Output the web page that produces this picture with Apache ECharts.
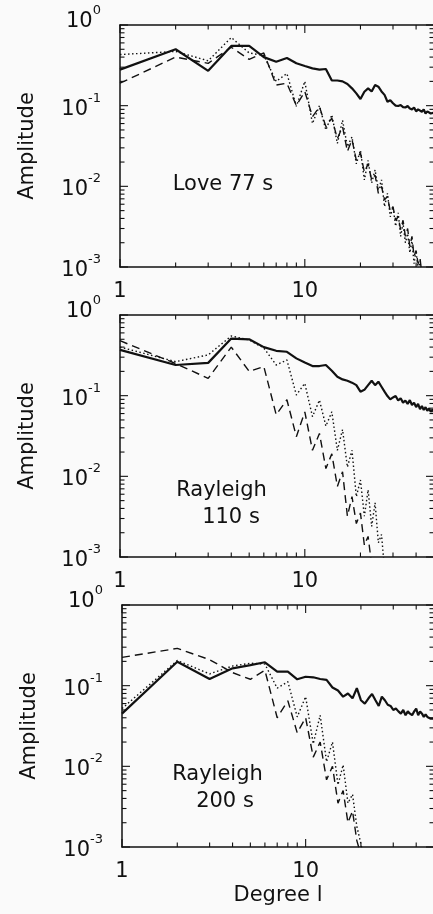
<!DOCTYPE html>
<html><head><meta charset="utf-8">
<script src="https://cdn.jsdelivr.net/npm/echarts@6/dist/echarts.min.js"></script>
<style>html,body{margin:0;padding:0;background:#fafafa}#c{width:433px;height:914px}</style>
</head><body><div id="c"></div>
<script>
// ---------------- data ----------------
const DEGREES = [1,2,3,4,5,6,7,8,9,10,11,12,13,14,15,16,17,18,19,20,21,22,23,24,25,26,27,28,29,30,31,32,33,34,35,36,37,38,39,40,41,42,43,44,45,46,47,48,49,50];

const LOVE77_SOLID  = [0.28,0.50,0.27,0.55,0.55,0.40,0.35,0.39,0.335,0.31,0.29,0.28,0.285,0.205,0.205,0.20,0.186,0.164,0.142,0.121,0.149,0.164,0.15,0.18,0.172,0.15,0.136,0.112,0.117,0.107,0.10,0.099,0.102,0.096,0.095,0.099,0.092,0.090,0.095,0.085,0.09,0.086,0.084,0.09,0.080,0.085,0.088,0.080,0.079,0.082];
const LOVE77_DOTTED = [0.43,0.47,0.36,0.70,0.45,0.42,0.20,0.25,0.098,0.20,0.060,0.10,0.05,0.077,0.034,0.066,0.031,0.041,0.019,0.028,0.012,0.021,0.011,0.016,0.009,0.012,0.0056,0.0082,0.0042,0.0056,0.0032,0.0047,0.0024,0.0035,0.0020,0.0026,0.0015,0.0021,0.0011,0.0016,0.0009,0.0012,0.0007];
const LOVE77_DASHED = [0.19,0.40,0.335,0.53,0.375,0.45,0.18,0.19,0.10,0.15,0.073,0.097,0.055,0.07,0.039,0.055,0.027,0.038,0.021,0.026,0.015,0.019,0.012,0.0138,0.0082,0.010,0.0068,0.0075,0.0049,0.0056,0.0038,0.0042,0.0029,0.0038,0.0024,0.003,0.0018,0.0024,0.00135,0.0016,0.0011,0.0013,0.0008];

const R110_SOLID  = [0.37,0.24,0.255,0.51,0.50,0.40,0.36,0.35,0.29,0.257,0.233,0.233,0.24,0.204,0.172,0.159,0.153,0.145,0.135,0.112,0.118,0.135,0.153,0.135,0.149,0.129,0.112,0.099,0.090,0.095,0.099,0.087,0.093,0.082,0.087,0.079,0.088,0.0766,0.082,0.072,0.079,0.068,0.0745,0.0664,0.072,0.065,0.0697,0.063,0.067,0.062];
const R110_DOTTED = [0.40,0.264,0.32,0.55,0.49,0.39,0.24,0.277,0.102,0.142,0.055,0.088,0.042,0.063,0.021,0.038,0.013,0.021,0.0056,0.009,0.0032,0.0068,0.0024,0.0047,0.0015,0.0019,0.0007];
const R110_DASHED = [0.48,0.25,0.164,0.40,0.20,0.23,0.058,0.089,0.031,0.063,0.021,0.034,0.0125,0.019,0.0075,0.0114,0.0032,0.0056,0.0026,0.0035,0.0014,0.0018,0.0008];

const R200_SOLID  = [0.045,0.198,0.121,0.164,0.18,0.195,0.149,0.149,0.12,0.129,0.127,0.121,0.118,0.095,0.087,0.073,0.080,0.0697,0.093,0.066,0.060,0.0697,0.079,0.066,0.056,0.073,0.066,0.058,0.056,0.050,0.052,0.048,0.045,0.050,0.043,0.048,0.045,0.043,0.048,0.052,0.043,0.048,0.045,0.041,0.044,0.041,0.043,0.039,0.041,0.039];
const R200_DOTTED = [0.052,0.205,0.14,0.175,0.19,0.185,0.093,0.112,0.041,0.073,0.019,0.043,0.0114,0.020,0.0059,0.0104,0.0035,0.0045,0.0018,0.0011,0.0006];
const R200_DASHED = [0.224,0.29,0.21,0.145,0.12,0.155,0.04,0.065,0.026,0.04,0.013,0.02,0.0068,0.010,0.0035,0.005,0.002,0.0028,0.0012,0.0008];

const X_MIN = 1, X_MAX = 50, Y_MIN = 0.001, Y_MAX = 1;
const X_TICK_LABELS = [1, 10];
const X_MAJOR_TICKS = [1, 10];
const Y_MAJOR_TICKS = [0.001, 0.01, 0.1, 1];
const X_MINOR_TICKS = [2,3,4,5,6,7,8,9,20,30,40];
const Y_MINOR_TICKS = [0.002,0.003,0.004,0.005,0.006,0.007,0.008,0.009,0.02,0.03,0.04,0.05,0.06,0.07,0.08,0.09,0.2,0.3,0.4,0.5,0.6,0.7,0.8,0.9];

const Y_NAME = 'Amplitude';
const X_NAME = 'Degree l';
const TITLES = [
  {text:'Love 77 s', x:223, y:184.5},
  {text:'Rayleigh', x:221.5, y:490.5},
  {text:'110 s', x:231, y:517.5},
  {text:'Rayleigh', x:217.5, y:775},
  {text:'200 s', x:225, y:801.5}
];

// ---------------- chart ----------------
const FONT = 'DejaVu Sans';
const INK = '#111111';
const FS = 21;

const panels = [
  {top:25,  left:120, width:314, solid:LOVE77_SOLID, dotted:LOVE77_DOTTED, dashed:LOVE77_DASHED},
  {top:315, left:120, width:314, solid:R110_SOLID,   dotted:R110_DOTTED,   dashed:R110_DASHED},
  {top:605, left:122, width:312, solid:R200_SOLID,   dotted:R200_DOTTED,   dashed:R200_DASHED}
];

function pairs(vals){ return vals.map((v,i)=>[DEGREES[i], v]); }
const isClose = (a,b)=>Math.abs(a-b) < 1e-6*Math.max(1,Math.abs(b));

const X_TICKS = X_MAJOR_TICKS.map(v=>[v,1]).concat(X_MINOR_TICKS.map(v=>[v,0]));
const Y_TICKS = Y_MAJOR_TICKS.map(v=>[v,1]).concat(Y_MINOR_TICKS.map(v=>[v,0]));
const MAJOR_LEN = 8, MINOR_LEN = 4.5;

const grid=[], xAxis=[], yAxis=[], series=[];
panels.forEach((p,i)=>{
  grid.push({left:p.left, top:p.top, width:p.width, height:242, containLabel:false, outerBoundsMode:'none'});
  const lineStyle = {color:INK, width:1.5};
  xAxis.push({
    type:'log', logBase:10, gridIndex:i, position:'bottom', min:X_MIN, max:X_MAX,
    axisLine:{show:true, lineStyle}, axisTick:{show:false},
    splitLine:{show:false}, minorTick:{show:false},
    axisLabel:{show:true, margin:14, fontFamily:FONT, fontSize:FS, color:INK,
      formatter:v=>{ const t = X_TICK_LABELS.find(t=>isClose(v,t)); return t===undefined?'':String(t); }},
    name: i===2 ? X_NAME : '', nameLocation:'middle', nameGap:38,
    nameTextStyle:{fontFamily:FONT, fontSize:FS, color:INK}
  });
  xAxis.push({
    type:'log', logBase:10, gridIndex:i, position:'top', min:X_MIN, max:X_MAX,
    axisLine:{show:true, lineStyle}, axisTick:{show:false},
    splitLine:{show:false}, axisLabel:{show:false}
  });
  yAxis.push({
    type:'log', logBase:10, gridIndex:i, position:'left', min:Y_MIN, max:Y_MAX,
    axisLine:{show:true, lineStyle}, axisTick:{show:false},
    splitLine:{show:false},
    axisLabel:{show:true, margin:19, color:INK,
      formatter:v=>{ const e = Math.round(Math.log10(v)); return e===0 ? '{b|10}{s|0}\n{g|}' : '{b|10}{s|'+e+'}'; },
      rich:{
        b:{fontFamily:FONT, fontSize:FS, lineHeight:28, verticalAlign:'bottom', color:INK},
        s:{fontFamily:FONT, fontSize:13, lineHeight:13, verticalAlign:'top', color:INK},
        g:{fontSize:1, lineHeight:14}
      }},
    name:Y_NAME, nameLocation:'middle', nameGap:82, nameRotate:90,
    nameTextStyle:{fontFamily:FONT, fontSize:FS, color:INK}
  });
  yAxis.push({
    type:'log', logBase:10, gridIndex:i, position:'right', min:Y_MIN, max:Y_MAX,
    axisLine:{show:true, lineStyle}, axisTick:{show:false},
    splitLine:{show:false}, axisLabel:{show:false}
  });
  const xi = 2*i, yi = 2*i;
  const base = {type:'line', xAxisIndex:xi, yAxisIndex:yi, showSymbol:false, symbol:'none', silent:true, clip:true, animation:false};
  series.push(Object.assign({}, base, {name:'solid'+i, data:pairs(p.solid), lineStyle:{color:INK, width:2.2, type:'solid'}, z:5}));
  series.push(Object.assign({}, base, {name:'dotted'+i, data:pairs(p.dotted), lineStyle:{color:INK, width:1.4, type:[1.5,2.5]}, z:4}));
  series.push(Object.assign({}, base, {name:'dashed'+i, data:pairs(p.dashed), lineStyle:{color:INK, width:1.4, type:[8,5]}, z:4}));
  // inward ticks on all four sides, placed through the log axes
  series.push({
    type:'custom', xAxisIndex:xi, yAxisIndex:yi, silent:true, clip:false, animation:false, z:6,
    data: X_TICKS.map(t=>[t[0], Y_MIN, t[1]]),
    renderItem:(params, api)=>{
      const len = api.value(2) ? MAJOR_LEN : MINOR_LEN;
      const b = api.coord([api.value(0), Y_MIN]);
      const t = api.coord([api.value(0), Y_MAX]);
      const st = {stroke:INK, lineWidth:1.1};
      return {type:'group', children:[
        {type:'line', shape:{x1:b[0], y1:b[1], x2:b[0], y2:b[1]-len}, style:st},
        {type:'line', shape:{x1:t[0], y1:t[1], x2:t[0], y2:t[1]+len}, style:st}
      ]};
    }
  });
  series.push({
    type:'custom', xAxisIndex:xi, yAxisIndex:yi, silent:true, clip:false, animation:false, z:6,
    data: Y_TICKS.map(t=>[X_MIN, t[0], t[1]]),
    renderItem:(params, api)=>{
      const len = api.value(2) ? MAJOR_LEN : MINOR_LEN;
      const l = api.coord([X_MIN, api.value(1)]);
      const r = api.coord([X_MAX, api.value(1)]);
      const st = {stroke:INK, lineWidth:1.1};
      return {type:'group', children:[
        {type:'line', shape:{x1:l[0], y1:l[1], x2:l[0]+len, y2:l[1]}, style:st},
        {type:'line', shape:{x1:r[0], y1:r[1], x2:r[0]-len, y2:r[1]}, style:st}
      ]};
    }
  });
});

const graphic = TITLES.map(t=>({
  type:'text', x:t.x, y:t.y, silent:true,
  style:{text:t.text, font:FS+'px "'+FONT+'"', fill:INK, textAlign:'center', textVerticalAlign:'middle'}
}));

const chart = echarts.init(document.getElementById('c'), null, {renderer:'canvas'});
chart.setOption({
  backgroundColor:'#fafafa',
  animation:false,
  grid, xAxis, yAxis, series, graphic,
  tooltip:{show:false}
});
</script>
</body></html>
